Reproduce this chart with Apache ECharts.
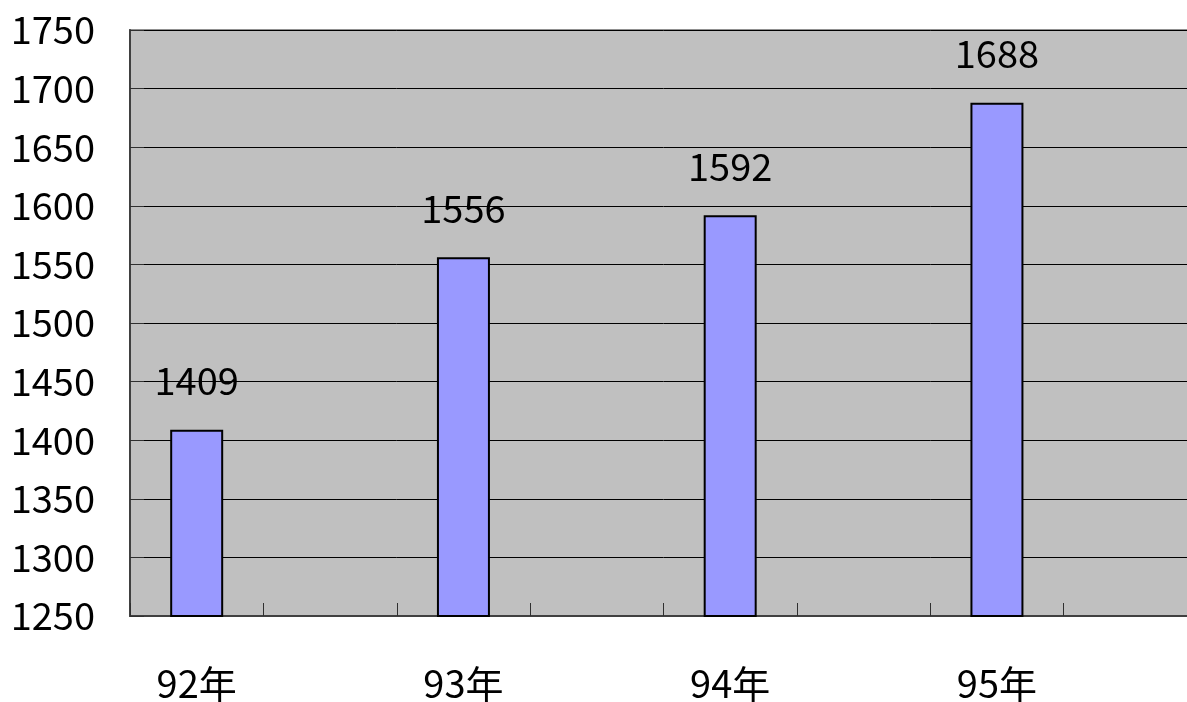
<!DOCTYPE html>
<html><head><meta charset="utf-8">
<script src="https://cdn.jsdelivr.net/npm/echarts@6/dist/echarts.min.js"></script>
<style>html,body{margin:0;padding:0;background:#fff;overflow:hidden}#c{width:1197px;height:702px}</style>
</head><body><div id="c"></div>
<script>
const categories = ['92年', '', '93年', '', '94年', '', '95年', ''];
const values = [1409, null, 1556, null, 1592, null, 1688, null];
const yMin = 1250, yMax = 1750, yStep = 50;

const font = '"Noto Sans CJK JP", "Noto Sans", sans-serif';
const chart = echarts.init(document.getElementById('c'), null, {renderer: 'canvas'});
chart.setOption({
  animation: false,
  grid: {left: 130, right: 0, top: 30, bottom: 86, outerBoundsMode: 'none', containLabel: false,
         show: true, backgroundColor: '#C0C0C0', borderColor: '#909090', borderWidth: 2},
  xAxis: {
    type: 'category', data: categories,
    axisLine: {lineStyle: {color: '#404040', width: 2}},
    axisTick: {show: true, inside: true, length: 13, interval: 0, lineStyle: {color: '#303030', width: 1}},
    axisLabel: {interval: 0, margin: 49, color: '#000', fontSize: 38, fontFamily: font},
    splitLine: {show: false}
  },
  yAxis: {
    type: 'value', min: yMin, max: yMax, interval: yStep,
    axisLine: {show: true, lineStyle: {color: '#404040', width: 2}},
    axisTick: {show: true, inside: true, length: 14, lineStyle: {color: '#303030', width: 1}},
    axisLabel: {margin: 35, color: '#000', fontSize: 38, fontFamily: font, formatter: v => String(v)},
    splitLine: {show: true, lineStyle: {color: '#000', width: 1}}
  },
  series: [{
    type: 'bar', data: values, barWidth: 53,
    itemStyle: {color: '#9999FF', borderColor: '#000', borderWidth: 2},
    label: {show: true, position: 'top', distance: 30, color: '#000', fontSize: 38, fontFamily: font}
  }]
});
</script></body></html>
